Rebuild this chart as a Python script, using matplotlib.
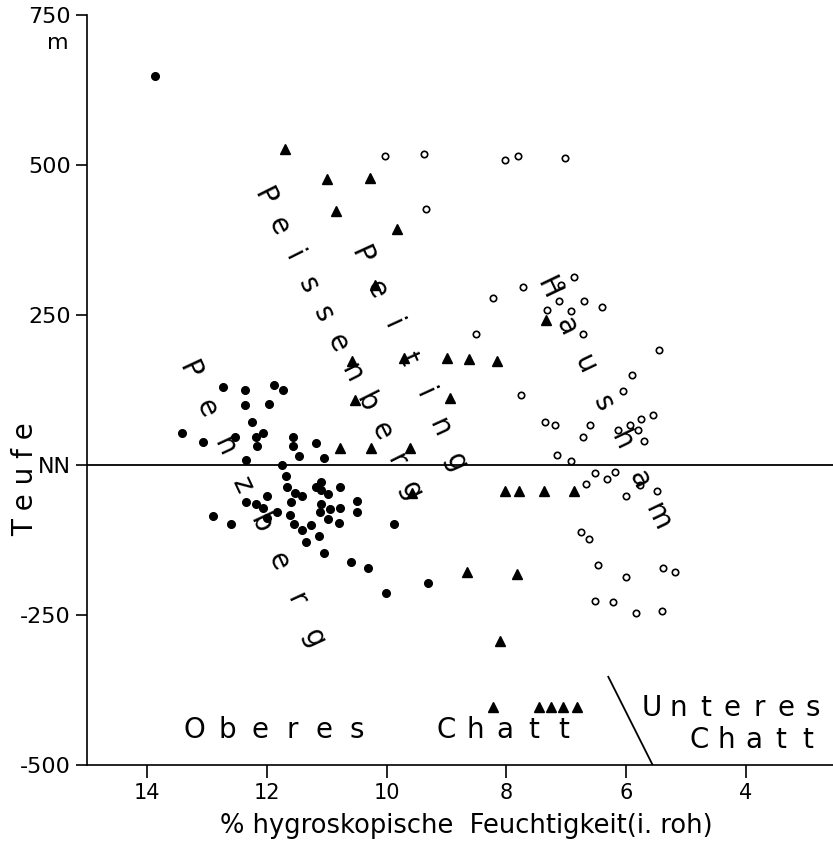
import numpy as np
import matplotlib
matplotlib.use("Agg")
import matplotlib.pyplot as plt
from matplotlib import transforms

# Penzberg (gefuellte Kreise)
penz_x = [13.87, 13.42, 13.06, 12.73, 12.36, 12.36, 11.88, 11.73, 11.97, 12.24,
          12.53, 12.18, 12.06, 12.16, 12.35, 11.57, 11.56, 11.47, 11.17, 11.05,
          11.75, 11.68, 11.66, 11.53, 11.42, 11.18, 11.09, 11.10, 10.97, 10.77,
          12.34, 12.18, 12.06, 12.00, 11.83, 11.99, 11.59, 11.61, 11.54, 11.42,
          11.27, 11.13, 11.35, 11.10, 11.11, 10.95, 10.78, 10.97, 10.79, 10.50,
          10.49, 12.90, 12.59, 9.87, 11.05, 10.60, 10.31, 9.31, 10.01]
penz_y = [648, 53, 39, 130, 125, 100, 133, 125, 102, 72,
          47, 47, 53, 32, 8, 47, 32, 15, 37, 11,
          0, -19, -37, -46, -51, -36, -29, -42, -49, -36,
          -61, -65, -71, -51, -79, -89, -61, -83, -98, -108,
          -100, -118, -128, -65, -79, -73, -71, -90, -97, -60,
          -79, -85, -98, -98, -146, -161, -171, -196, -214]

# Peissenberg / Peiting (gefuellte Dreiecke)
peis_x = [11.70, 11.00, 10.28, 10.85, 9.83, 10.20, 7.34, 10.57, 9.71, 8.99,
          8.62, 8.16, 10.53, 8.95, 10.77, 10.26, 9.61, 9.57, 8.03, 7.79,
          7.37, 6.87, 8.65, 7.83, 8.11, 8.22, 7.45, 7.26, 7.05, 6.83]
peis_y = [526, 476, 478, 423, 394, 300, 241, 174, 178, 178,
          176, 174, 108, 111, 28, 28, 29, -46, -44, -44,
          -44, -43, -178, -181, -293, -404, -403, -403, -403, -403]

# Hausham (offene Kreise)
haus_x = [10.03, 9.37, 8.03, 7.81, 7.02, 9.34, 6.87, 7.73, 8.22, 7.09,
          7.12, 6.70, 6.40, 7.33, 6.93, 6.72, 8.50, 5.46, 5.90, 6.05,
          7.76, 7.35, 7.19, 6.61, 6.72, 5.56, 5.75, 5.93, 6.13, 5.81,
          5.71, 7.16, 6.93, 6.53, 6.33, 6.19, 6.68, 5.77, 6.01, 5.49,
          6.75, 6.63, 6.47, 6.00, 5.39, 5.19, 6.52, 6.22, 5.83, 5.41]
haus_y = [515, 518, 508, 515, 512, 426, 314, 297, 278, 300,
          274, 273, 264, 258, 257, 219, 218, 191, 150, 124,
          116, 72, 67, 67, 46, 84, 76, 67, 58, 58,
          40, 16, 7, -14, -23, -12, -31, -34, -52, -44,
          -111, -124, -167, -186, -171, -179, -226, -229, -247, -244]

# Grenze Oberes / Unteres Chatt
grenze_x = [6.30, 5.56]
grenze_y = [-353, -500]

ytick_pos = [-500, -250, 0, 250, 500, 750]
ytick_lab = ['-500', '-250', 'NN', '250', '500', '750']
xtick_pos = [14, 12, 10, 8, 6, 4]

fig = plt.figure(figsize=(8.33, 8.44), dpi=100)
ax = fig.add_axes([87 / 833, 79 / 844, 746 / 833, 750 / 844])
ax.set_xlim(15, 2.55)
ax.set_ylim(-500, 750)

ax.axhline(0, color='k', lw=1.3, zorder=1)
ax.plot(grenze_x, grenze_y, color='k', lw=1.3)

ax.plot(penz_x, penz_y, 'o', color='k', ms=5.5, ls='none')
ax.plot(peis_x, peis_y, '^', color='k', ms=7.5, ls='none')
ax.plot(haus_x, haus_y, 'o', mfc='white', mec='k', mew=1.2, ms=4.6, ls='none')

for s in ['top', 'right']:
    ax.spines[s].set_visible(False)
for s in ['left', 'bottom']:
    ax.spines[s].set_linewidth(1.2)

ax.set_yticks(ytick_pos)
ax.set_yticklabels(ytick_lab)
ax.set_xticks(xtick_pos)
ax.tick_params(axis='y', length=8, width=1.2, pad=3.5, labelsize=16)
ax.tick_params(axis='x', length=9, width=1.2, pad=4, labelsize=15)

# Einheit unter 750
trans = transforms.blended_transform_factory(ax.transAxes, ax.transData)
ax.text(-0.039, 703, 'm', transform=trans, ha='center', va='center', fontsize=16)

fig.text(25 / 833, 1 - 479 / 844, 'T e u f e', rotation=90, ha='center', va='center', fontsize=20)
fig.text(466 / 833, 1 - 826 / 844, '% hygroskopische  Feuchtigkeit(i. roh)',
         ha='center', va='center', fontsize=18.5)


def spaced(word, x0, y0, x1, y1, size):
    # Buchstaben gleichmaessig entlang einer Linie verteilen
    p0 = ax.transData.transform((x0, y0))
    p1 = ax.transData.transform((x1, y1))
    ang = np.degrees(np.arctan2(p1[1] - p0[1], p1[0] - p0[0]))
    n = len(word)
    for i, ch in enumerate(word):
        t = i / (n - 1)
        ax.text(x0 + (x1 - x0) * t, y0 + (y1 - y0) * t, ch, rotation=ang,
                rotation_mode='anchor', ha='center', va='center', fontsize=size)


spaced('Peissenberg', 12.05, 447, 9.60, -42, 20)
spaced('Peiting', 10.43, 350, 8.85, 5, 20)
spaced('Penzberg', 13.30, 158, 11.22, -288, 20)
spaced('Hausham', 7.30, 295, 5.47, -87, 20)

spaced('Oberes', 13.20, -442, 10.50, -442, 20)
spaced('Chatt', 9.00, -442, 7.05, -442, 20)
spaced('Unteres', 5.58, -405, 2.88, -405, 20)
spaced('Chatt', 4.78, -458, 2.97, -458, 20)

fig.savefig('out.png', dpi=100)
